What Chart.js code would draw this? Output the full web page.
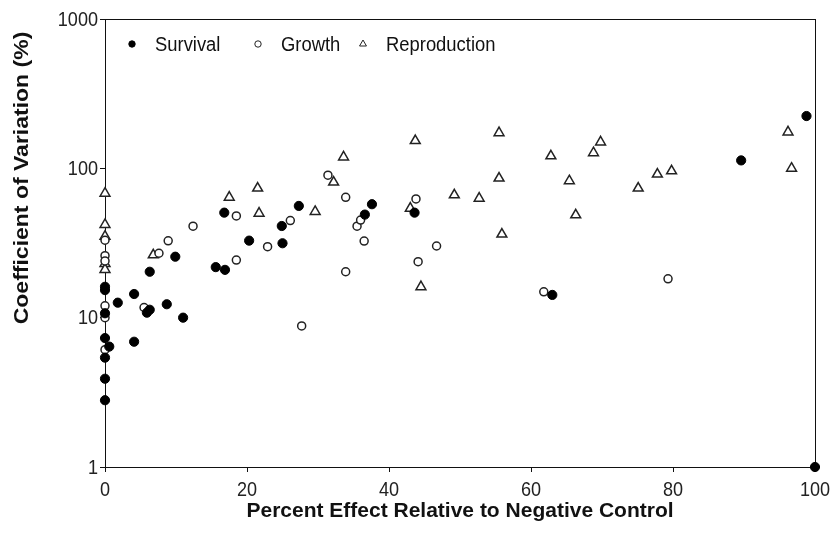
<!DOCTYPE html>
<html>
<head>
<meta charset="utf-8">
<script src="https://cdn.jsdelivr.net/npm/chart.js@4.4.1/dist/chart.umd.min.js"></script>
<style>
  html, body { margin: 0; padding: 0; background: #fff; }
  #wrap { width: 836px; height: 540px; }
</style>
</head>
<body>
<div id="wrap"><canvas id="chart" width="836" height="540"></canvas></div>
<script>
// Data: x = percent effect, y = CV (%)
const survivalX = [0, 0, 0, 0, 0.6, 0, 0, 0, 1.8, 4.1, 4.1, 6.3, 5.9, 6.3, 8.7, 9.9, 11, 15.6, 16.9, 16.8, 20.3, 24.9, 25, 27.3, 36.6, 37.6, 43.6, 63, 89.6, 98.8, 100];
const survivalY = [16.1, 15.3, 10.7, 7.3, 6.4, 5.4, 3.9, 2.8, 12.6, 14.4, 6.9, 20.3, 10.8, 11.3, 12.3, 25.6, 10, 21.8, 20.9, 50.5, 32.8, 41.1, 31.5, 56, 49, 57.5, 50.5, 14.2, 113, 224, 1];

const growthX = [0, 0, 0, 0, 0, 0, 5.5, 7.6, 8.9, 12.4, 18.5, 18.5, 22.9, 26.1, 27.7, 31.4, 33.9, 33.9, 35.5, 36, 36.5, 43.8, 46.7, 44.1, 61.8, 79.3];
const growthY = [33, 26, 24, 12, 10, 6.1, 11.7, 27, 32.7, 41, 48, 24.3, 29.9, 44.7, 8.8, 90, 64, 20.3, 41, 45, 32.6, 62.4, 30.2, 23.7, 14.9, 18.2];

const reproX = [0, 0, 0, 0, 0, 6.8, 17.5, 21.5, 21.7, 29.6, 33.6, 32.2, 43.7, 43, 44.5, 49.2, 52.7, 55.5, 55.5, 55.9, 62.8, 65.4, 66.3, 68.8, 69.8, 75.1, 77.8, 79.8, 96.2, 96.7];
const reproY = [68, 42, 35, 23, 21, 26.3, 64, 73.6, 50, 51.3, 119, 80.7, 153, 54, 16.1, 66.3, 63, 173, 85.8, 36.2, 121, 82.4, 48.7, 127, 150, 73.6, 91.3, 96, 175, 100];

const seriesNames = ["Survival", "Growth", "Reproduction"];
const xTicks = [0, 20, 40, 60, 80, 100];
const yTicks = [1, 10, 100, 1000];

const FONT = "'Liberation Sans', Arial, sans-serif";

function toPoints(xs, ys) {
    return xs.map((x, i) => ({ x: x, y: ys[i] }));
}

// text squeezed sideways, the picture has narrow lettering
function squeezed(ctx, text, x, y, align, sx) {
    ctx.save();
    ctx.translate(x, y);
    ctx.scale(sx, 1);
    ctx.textAlign = align;
    ctx.fillText(text, 0, 0);
    ctx.restore();
}

// frame round the plot area (top and right sides too)
const framePlugin = {
    id: "frame",
    beforeDatasetsDraw(chart) {
        const a = chart.chartArea;
        const ctx = chart.ctx;
        ctx.save();
        ctx.strokeStyle = "#111";
        ctx.lineWidth = 1;
        ctx.strokeRect(Math.round(a.left) + 0.5, Math.round(a.top) + 0.5, Math.round(a.right - a.left), Math.round(a.bottom - a.top));
        ctx.restore();
    }
};

// tick labels, legend inside the plot and the axis titles
const legendX = [27, 153, 258];
const textsPlugin = {
    id: "texts",
    afterDraw(chart) {
        const a = chart.chartArea;
        const ctx = chart.ctx;
        const xs = chart.scales.x;
        const ys = chart.scales.y;
        ctx.save();
        ctx.fillStyle = "#222";
        ctx.textBaseline = "middle";
        ctx.font = "21px " + FONT;
        xTicks.forEach((v) => squeezed(ctx, String(v), xs.getPixelForValue(v), a.bottom + 23, "center", 0.86));
        yTicks.forEach((v) => squeezed(ctx, String(v), a.left - 7, ys.getPixelForValue(v) + 1, "right", 0.86));

        ctx.font = "20px " + FONT;
        chart.data.datasets.forEach((ds, i) => {
            const mx = a.left + legendX[i];
            const my = a.top + 25;
            ctx.strokeStyle = ds.borderColor;
            ctx.fillStyle = ds.backgroundColor;
            Chart.helpers.drawPoint(ctx, {
                pointStyle: ds.pointStyle,
                radius: ds.pointStyle === "triangle" ? 4 : 3.2,
                borderWidth: 1.3,
                rotation: 0
            }, mx, my);
            ctx.fillStyle = "#111";
            squeezed(ctx, ds.label, mx + 23, my + 1, "left", 0.92);
        });

        ctx.fillStyle = "#111";
        ctx.font = "bold 21px " + FONT;
        ctx.textAlign = "center";
        ctx.fillText("Percent Effect Relative to Negative Control", (a.left + a.right) / 2, 511);

        ctx.font = "bold 23px " + FONT;
        ctx.translate(22, 178);
        ctx.rotate(-Math.PI / 2);
        ctx.scale(1, 0.87);
        ctx.fillText("Coefficient of Variation (%)", 0, 0);
        ctx.restore();
    }
};

new Chart(document.getElementById("chart").getContext("2d"), {
    type: "scatter",
    data: {
        datasets: [
            {
                label: seriesNames[0],
                data: toPoints(survivalX, survivalY),
                pointStyle: "circle",
                pointRadius: 4.6,
                backgroundColor: "#000",
                borderColor: "#000",
                borderWidth: 1,
                clip: false
            },
            {
                label: seriesNames[1],
                data: toPoints(growthX, growthY),
                pointStyle: "circle",
                pointRadius: 4,
                backgroundColor: "#fff",
                borderColor: "#222",
                borderWidth: 1.5,
                clip: false
            },
            {
                label: seriesNames[2],
                data: toPoints(reproX, reproY),
                pointStyle: "triangle",
                pointRadius: 5.7,
                backgroundColor: "#fff",
                borderColor: "#222",
                borderWidth: 1.5,
                clip: false
            }
        ]
    },
    options: {
        responsive: false,
        animation: false,
        events: [],
        layout: { padding: { top: 19, right: 21, left: 0, bottom: 0 } },
        plugins: {
            legend: { display: false },
            tooltip: { enabled: false }
        },
        scales: {
            x: {
                type: "linear",
                min: 0,
                max: 100,
                afterBuildTicks: (s) => { s.ticks = xTicks.map((v) => ({ value: v })); },
                afterFit: (s) => { s.height = 73; },
                grid: { drawOnChartArea: false, drawTicks: true, tickLength: 5, color: "#111" },
                border: { display: true, color: "#111", width: 1 },
                ticks: { display: false }
            },
            y: {
                type: "logarithmic",
                min: 1,
                max: 1000,
                afterBuildTicks: (s) => { s.ticks = yTicks.map((v) => ({ value: v })); },
                afterFit: (s) => { s.width = 105; },
                grid: { drawOnChartArea: false, drawTicks: true, tickLength: 5, color: "#111" },
                border: { display: true, color: "#111", width: 1 },
                ticks: { display: false }
            }
        }
    },
    plugins: [framePlugin, textsPlugin]
});
</script>
</body>
</html>
